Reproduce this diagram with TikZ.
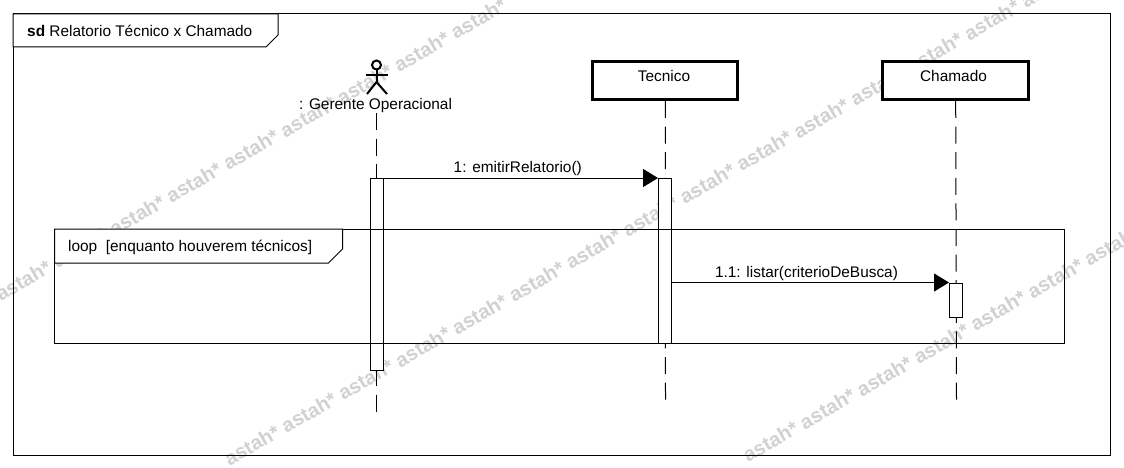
\documentclass[tikz,border=0pt]{standalone}
\usepackage{fontspec}
\setmainfont{Liberation Sans}
\usetikzlibrary{positioning,arrows.meta}
\definecolor{wmgray}{gray}{0.82}
\tikzset{
  wmark/.style={text=wmgray, font=\fontsize{20}{22}\selectfont\bfseries, rotate=30, inner sep=0pt},
  label/.style={font=\fontsize{15.4}{18}\selectfont, inner sep=0pt},
  head/.style={draw, rectangle, line width=3pt, fill=white, minimum height=38pt, label},
  act/.style={draw, rectangle, line width=1pt, fill=white, minimum width=13pt, inner sep=0pt},
  lifeline/.style={line width=1pt, dash pattern=on 17pt off 8.6pt},
  msg/.style={line width=1pt, -{Triangle[length=15pt,width=18pt]}},
  frametag/.style={draw, line width=1pt, fill=white}
}
\begin{document}
\begin{tikzpicture}[x=1pt, y=-1pt]
    \useasboundingbox (0,0) rectangle (1124,468);
    \fill[white] (0,0) rectangle (1124,468);

    % watermark bands
    \foreach \i in {-3,...,6}
        \node[wmark, name=wma\i] at ({137+56.9*\i}, {215-32.7*\i}) {astah*};
    \foreach \i in {0,...,14}
        \node[wmark, name=wmb\i] at ({252+56.9*\i}, {445-32.7*\i}) {astah*};
    \foreach \i in {0,...,6}
        \node[wmark, name=wmc\i] at ({770.5+56.9*\i}, {441.5-32.7*\i}) {astah*};

    % lifeline heads
    \coordinate (gerente) at (376.5,113);
    \node[head, minimum width=145pt] (tecnico) at (665.3,80.5) {};
    \node[label] (tecnicotxt) at (664,76) {Tecnico};
    \node[head, minimum width=146.5pt] (chamado) at (955.7,80.5) {};
    \node[label] (chamadotxt) at (953.5,76) {Chamado};

    % actor
    \node[draw, circle, line width=2pt, minimum size=9pt, inner sep=0pt] (actorhead) at (376.5,65) {};
    \coordinate (actorhip) at (376.5,82);
    \draw[line width=2pt] (actorhead.south) -- (actorhip);
    \draw[line width=2pt] (365.5,75) -- (387.5,75);
    \draw[line width=2pt] (367,94) -- (actorhip) -- (387,94);
    \node[label] (actorname) at (375.5,105.5) {: Gerente Operacional};

    % lifelines
    \coordinate (gerenteend) at (376.5,416);
    \coordinate (tecnicoend) at (665.5,405);
    \coordinate (chamadoend) at (956.5,402);
    \draw[lifeline] (gerente) -- (gerenteend);
    \draw[lifeline] (tecnico.south) -- (tecnicoend);
    \draw[lifeline] (chamado.south) -- (chamadoend);

    % activations
    \node[act, minimum height=192pt] (gerenteact) at (376.5,274.5) {};
    \node[act, minimum height=165pt] (tecnicoact) at (665,261) {};
    \node[act, minimum height=34pt] (chamadoact) at (956,300) {};

    % frames
    \draw[line width=1pt] (13,14) rectangle (1110,455);
    \draw[frametag] (13,14) -- (278,14) -- (278,35) -- (266,47) -- (13,47) -- cycle;
    \node[label, anchor=west] (sdtitle) at (27,31) {\textbf{sd} Relatorio Técnico x Chamado};
    \draw[line width=1pt] (54.5,229) rectangle (1064,343);
    \draw[frametag] (54.5,229) -- (342.5,229) -- (342.5,249) -- (328.5,263) -- (54.5,263) -- cycle;
    \node[label, anchor=west] (looptitle) at (68,247) {loop\ \ [enquanto houverem técnicos]};

    % messages
    \draw[msg] (gerenteact.north east) -- node[label, above=1.5pt, xshift=-3pt] {1: emitirRelatorio()} (tecnicoact.north west);
    \draw[msg] (tecnicoact.east |- chamadoact.north) -- node[label, above=1.5pt, xshift=-4pt] {1.1: listar(criterioDeBusca)} (chamadoact.north west);
\end{tikzpicture}
\end{document}
